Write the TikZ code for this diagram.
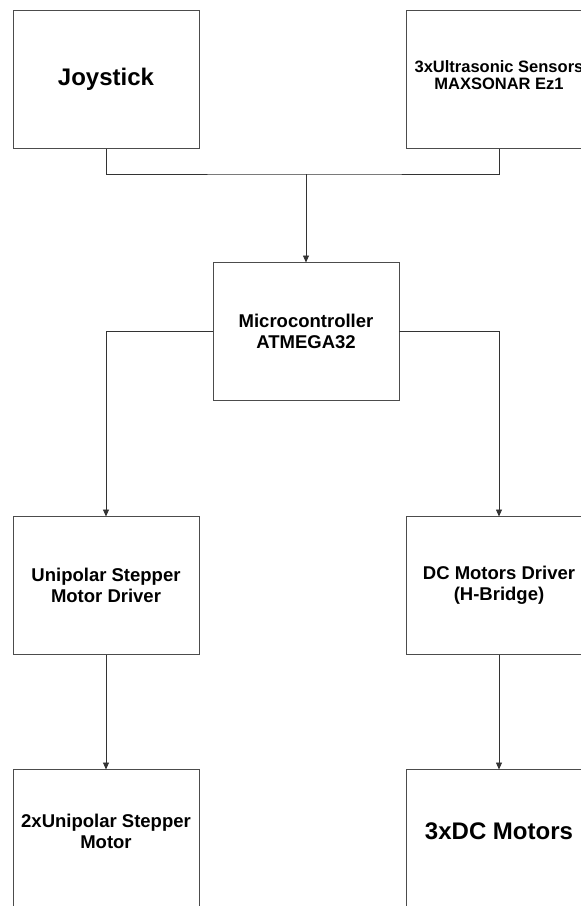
\documentclass[tikz,border=0pt]{standalone}
\usepackage{fontspec}
\setmainfont{Liberation Sans}
\usetikzlibrary{arrows.meta,positioning}

\begin{document}
\begin{tikzpicture}[
  x=1pt,y=-1pt,
  font=\bfseries,node distance=115pt,
  blk/.style={rectangle,draw=black!70,line width=0.8pt,minimum width=186pt,minimum height=138pt,align=center,inner sep=2pt,outer sep=0pt},
  big/.style={blk,font=\bfseries\fontsize{24}{28}\selectfont},
  mid/.style={blk,font=\bfseries\fontsize{18.5}{21}\selectfont},
  sml/.style={blk,font=\bfseries\fontsize{16.5}{17}\selectfont},
  ln/.style={draw=black!80,line width=0.8pt},
  ar/.style={ln,-{Triangle[length=7pt,width=6pt]}}
]
\clip (0,0) rectangle (581,906);
\useasboundingbox (0,0) rectangle (581,906);
\node[big] (joy) at (106,79.5) {Joystick};
\node[sml] (sonar) at (499,79.5) {3xUltrasonic Sensors\\MAXSONAR Ez1\\[-9pt]};
\node[mid] (mcu) at (306,331.5) {Microcontroller\\ATMEGA32};
\node[mid] (drvL) at (106,585.5) {Unipolar Stepper\\Motor Driver};
\node[mid] (drvR) at (499,585.5) {DC Motors Driver\\(H-Bridge)};
\node[mid,below=of drvL,minimum height=139pt] (motL) {2xUnipolar Stepper\\Motor\\[-5pt]};
\node[big,below=of drvR,minimum height=139pt] (motR) {3xDC Motors\\[-12pt]};
\coordinate (bus) at (306,174);
\draw[ln] (joy.south) |- (bus) -| (sonar.south);
\draw[ar] (bus) -- (mcu.north);
\draw[ar] (mcu.west) -| (drvL.north);
\draw[ar] (mcu.east) -| (drvR.north);
\draw[ar] (drvL) -- (motL); \draw[ar] (drvR) -- (motR);
\end{tikzpicture}
\end{document}
